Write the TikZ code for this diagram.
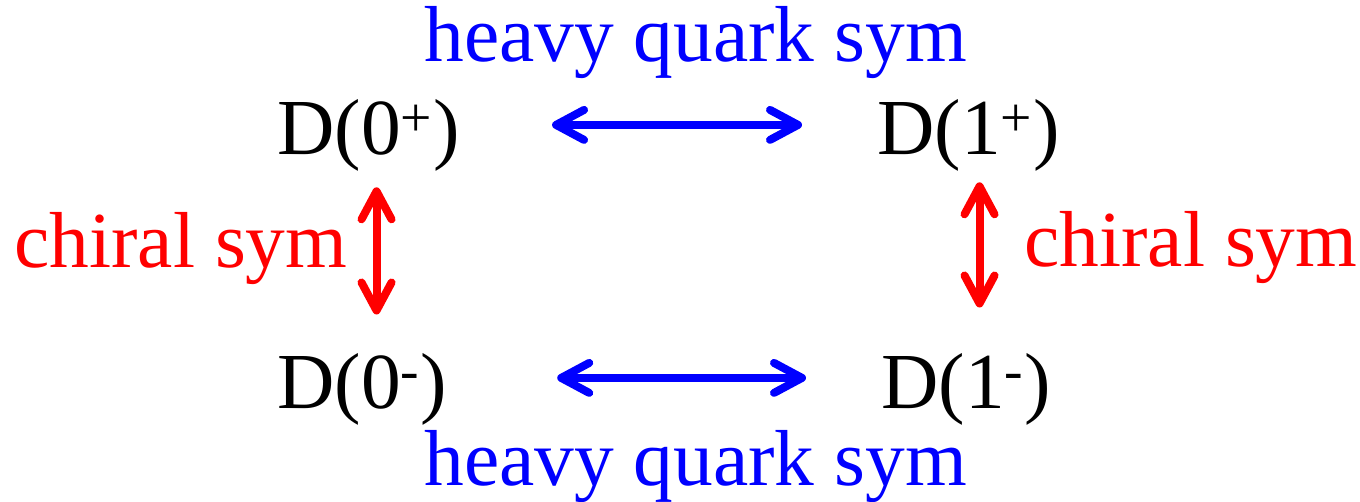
\documentclass[tikz,border=0pt]{standalone}
\usepackage{fontspec}
\setmainfont{Liberation Serif}
\usetikzlibrary{arrows.meta}
\tikzset{
  lbl/.style={inner sep=0pt, anchor=base west, font=\fontsize{39.7}{44}\selectfont},
  meson/.style={lbl, text=black},
  hq/.style={lbl, text=blue},
  ch/.style={lbl, text=red},
  dbl/.style={line width=4pt, line cap=round, {Straight Barb[length=14pt,width=15pt,round]}-{Straight Barb[length=14pt,width=15pt,round]}},
}
\begin{document}
\begin{tikzpicture}[x=0.5pt,y=-0.5pt]
\useasboundingbox (0,0) rectangle (1360,502);
\node[meson] (d0p) at (277,155) {D(0\textsuperscript{+})};
\node[meson] (d1p) at (877,155) {D(1\textsuperscript{+})};
\node[meson] (d0m) at (277,408) {D(0\textsuperscript{-})};
\node[meson] (d1m) at (881,408) {D(1\textsuperscript{-})};
\node[hq] (hqt) at (424,62) {heavy quark sym};
\node[hq] (hqb) at (424,485) {heavy quark sym};
\node[ch] (chl) at (14,268) {chiral sym};
\node[ch] (chr) at (1024,267) {chiral sym};
\draw[dbl, blue, shorten <=46pt, shorten >=37.5pt]
  ([yshift=5.5pt]d0p.east) -- ([yshift=5.5pt]d0p.east -| d1p.west);
\draw[dbl, blue, shorten <=55pt, shorten >=37.5pt]
  ([yshift=5.5pt]d0m.east) -- ([yshift=5.5pt]d0m.east -| d1m.west);
\draw[dbl, red, shorten <=7.5pt, shorten >=19pt]
  ([xshift=4pt]d0p.south) -- ([xshift=4pt]d0p.south |- d0m.north);
\draw[dbl, red, shorten <=5pt, shorten >=22.5pt]
  ([xshift=5.5pt]d1p.south) -- ([xshift=5.5pt]d1p.south |- d1m.north);
\end{tikzpicture}
\end{document}
